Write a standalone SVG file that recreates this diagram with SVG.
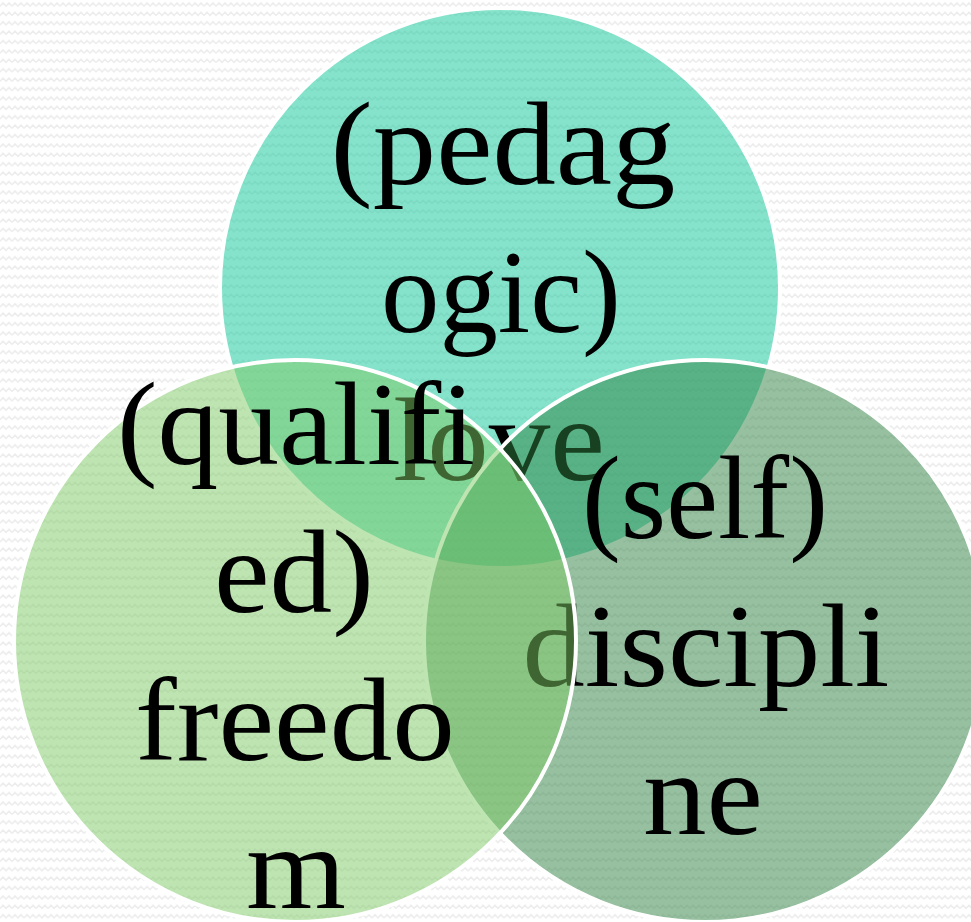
<svg xmlns="http://www.w3.org/2000/svg" width="971" height="922" viewBox="0 0 971 922">
<defs>
<pattern id="zig" width="12" height="9.4" patternUnits="userSpaceOnUse">
<polyline points="0,6 3,3 6,6 9,3 12,6" fill="none" stroke="#ececec" stroke-width="1.6"/>
</pattern>
<style>
.c{stroke:#ffffff;stroke-width:4;}
.t{font-family:"Liberation Serif","Times New Roman",serif;font-size:118px;fill:#000000;text-anchor:middle;font-variant-ligatures:none;}
</style>
</defs>
<rect x="0" y="0" width="971" height="922" fill="#ffffff"/>
<rect x="0" y="0" width="971" height="922" fill="url(#zig)"/>
<g id="node-love">
<circle class="c" cx="500" cy="288" r="280" fill="#0bc797" fill-opacity="0.5"/>
<text class="t"><tspan x="503" y="184" textLength="345" lengthAdjust="spacingAndGlyphs">(pedag</tspan><tspan x="501" y="332" textLength="240" lengthAdjust="spacingAndGlyphs">ogic)</tspan><tspan x="499" y="480" textLength="212" lengthAdjust="spacingAndGlyphs">love</tspan></text>
</g>
<g id="node-discipline">
<circle class="c" cx="705" cy="641" r="281" fill="#2d8141" fill-opacity="0.5"/>
<text class="t"><tspan x="705" y="538" textLength="246" lengthAdjust="spacingAndGlyphs">(self)</tspan><tspan x="706" y="686" textLength="367" lengthAdjust="spacingAndGlyphs">discipli</tspan><tspan x="703" y="834" textLength="120" lengthAdjust="spacingAndGlyphs">ne</tspan></text>
</g>
<g id="node-freedom">
<circle class="c" cx="295" cy="641" r="281" fill="#7dc965" fill-opacity="0.5"/>
<text class="t"><tspan x="296" y="464" textLength="358" lengthAdjust="spacingAndGlyphs">(qualifi</tspan><tspan x="294" y="612" textLength="160" lengthAdjust="spacingAndGlyphs">ed)</tspan><tspan x="295" y="760" textLength="320" lengthAdjust="spacingAndGlyphs">freedo</tspan><tspan x="296" y="908" textLength="100" lengthAdjust="spacingAndGlyphs">m</tspan></text>
</g>
</svg>
